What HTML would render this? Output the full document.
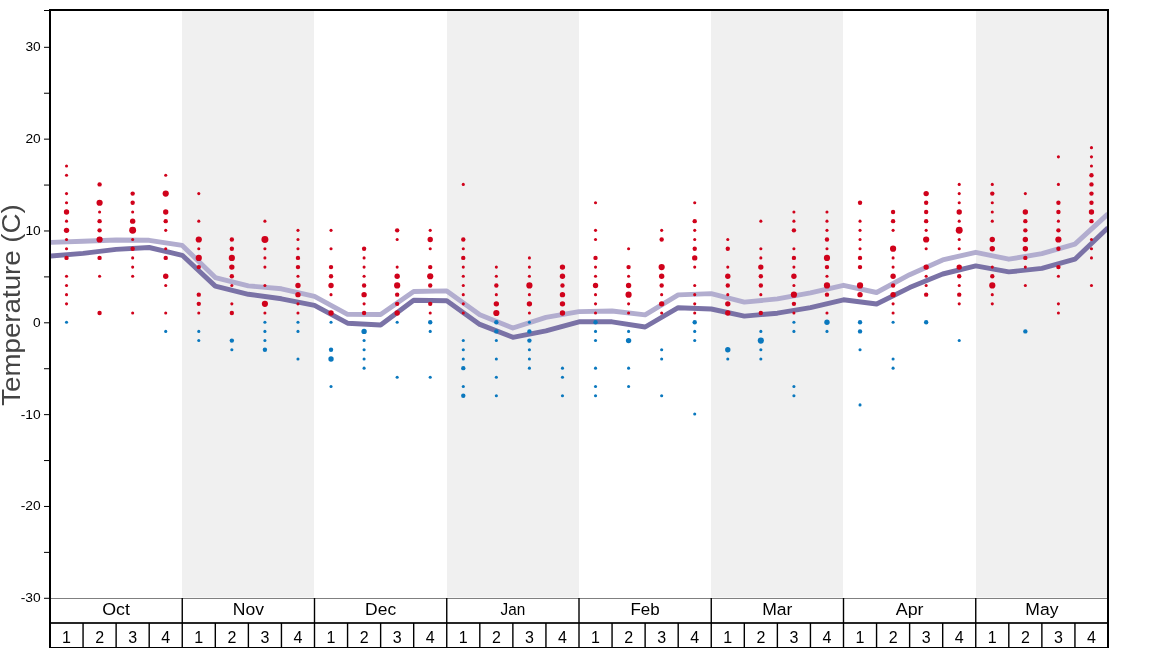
<!DOCTYPE html><html><head><meta charset="utf-8"><style>html,body{margin:0;padding:0;background:#fff;overflow:hidden}svg{display:block;will-change:transform}text{font-family:"Liberation Sans",sans-serif}</style></head><body>
<svg width="1168" height="648" viewBox="0 0 1168 648">
<rect width="1168" height="648" fill="#fff"/>
<rect x="182" y="10" width="132" height="587.5" fill="#f0f0f0"/>
<rect x="447" y="10" width="132" height="587.5" fill="#f0f0f0"/>
<rect x="711" y="10" width="132" height="587.5" fill="#f0f0f0"/>
<rect x="976" y="10" width="131" height="587.5" fill="#f0f0f0"/>
<g clip-path="url(#clip)">
<polyline points="50.00,242.40 83.06,241.30 116.12,240.00 149.19,240.30 182.25,245.40 215.31,277.60 248.38,285.90 281.44,288.80 314.50,296.40 347.56,314.40 380.62,314.50 413.69,291.50 446.75,290.90 479.81,314.80 512.88,328.00 545.94,317.40 579.00,311.60 612.06,311.00 645.12,314.90 678.19,294.90 711.25,293.60 744.31,302.10 777.38,298.90 810.44,292.90 843.50,285.30 876.56,292.50 909.62,274.70 942.69,259.90 975.75,252.30 1008.81,259.20 1041.88,253.60 1074.94,244.10 1108.00,213.90" fill="none" stroke="#b2adcf" stroke-width="4.9" stroke-linejoin="round"/>
<polyline points="50.00,256.10 83.06,253.40 116.12,249.40 149.19,247.50 182.25,255.30 215.31,286.10 248.38,294.30 281.44,298.80 314.50,305.30 347.56,323.20 380.62,325.00 413.69,300.30 446.75,300.70 479.81,324.40 512.88,337.30 545.94,330.90 579.00,321.80 612.06,321.80 645.12,327.00 678.19,307.70 711.25,309.00 744.31,316.10 777.38,313.20 810.44,307.70 843.50,299.80 876.56,304.00 909.62,287.60 942.69,274.00 975.75,265.90 1008.81,271.90 1041.88,268.40 1074.94,259.20 1108.00,227.70" fill="none" stroke="#7a72a6" stroke-width="4.9" stroke-linejoin="round"/>
</g>
<defs><clipPath id="clip"><rect x="51" y="11" width="1056" height="587"/></clipPath></defs>
<circle cx="66.53" cy="166.02" r="1.55" fill="#d0021b"/>
<circle cx="66.53" cy="175.21" r="1.55" fill="#d0021b"/>
<circle cx="66.53" cy="193.58" r="1.55" fill="#d0021b"/>
<circle cx="66.53" cy="202.77" r="1.55" fill="#d0021b"/>
<circle cx="66.53" cy="211.96" r="2.68" fill="#d0021b"/>
<circle cx="66.53" cy="221.14" r="1.55" fill="#d0021b"/>
<circle cx="66.53" cy="230.33" r="2.68" fill="#d0021b"/>
<circle cx="66.53" cy="239.52" r="1.55" fill="#d0021b"/>
<circle cx="66.53" cy="248.70" r="1.55" fill="#d0021b"/>
<circle cx="66.53" cy="257.89" r="2.19" fill="#d0021b"/>
<circle cx="66.53" cy="276.26" r="1.55" fill="#d0021b"/>
<circle cx="66.53" cy="285.45" r="1.55" fill="#d0021b"/>
<circle cx="66.53" cy="294.64" r="1.55" fill="#d0021b"/>
<circle cx="66.53" cy="303.83" r="1.55" fill="#d0021b"/>
<circle cx="66.53" cy="322.20" r="1.55" fill="#0a78be"/>
<circle cx="99.59" cy="184.40" r="2.19" fill="#d0021b"/>
<circle cx="99.59" cy="202.77" r="3.10" fill="#d0021b"/>
<circle cx="99.59" cy="211.96" r="1.55" fill="#d0021b"/>
<circle cx="99.59" cy="221.14" r="2.19" fill="#d0021b"/>
<circle cx="99.59" cy="230.33" r="2.19" fill="#d0021b"/>
<circle cx="99.59" cy="239.52" r="3.10" fill="#d0021b"/>
<circle cx="99.59" cy="257.89" r="2.19" fill="#d0021b"/>
<circle cx="99.59" cy="276.26" r="1.55" fill="#d0021b"/>
<circle cx="99.59" cy="313.01" r="2.19" fill="#d0021b"/>
<circle cx="132.66" cy="193.58" r="2.19" fill="#d0021b"/>
<circle cx="132.66" cy="202.77" r="2.19" fill="#d0021b"/>
<circle cx="132.66" cy="211.96" r="1.55" fill="#d0021b"/>
<circle cx="132.66" cy="221.14" r="2.68" fill="#d0021b"/>
<circle cx="132.66" cy="230.33" r="3.47" fill="#d0021b"/>
<circle cx="132.66" cy="239.52" r="1.55" fill="#d0021b"/>
<circle cx="132.66" cy="248.70" r="2.19" fill="#d0021b"/>
<circle cx="132.66" cy="257.89" r="1.55" fill="#d0021b"/>
<circle cx="132.66" cy="267.08" r="1.55" fill="#d0021b"/>
<circle cx="132.66" cy="276.26" r="1.55" fill="#d0021b"/>
<circle cx="132.66" cy="313.01" r="1.55" fill="#d0021b"/>
<circle cx="165.72" cy="175.21" r="1.55" fill="#d0021b"/>
<circle cx="165.72" cy="193.58" r="3.10" fill="#d0021b"/>
<circle cx="165.72" cy="211.96" r="2.68" fill="#d0021b"/>
<circle cx="165.72" cy="221.14" r="2.19" fill="#d0021b"/>
<circle cx="165.72" cy="230.33" r="1.55" fill="#d0021b"/>
<circle cx="165.72" cy="248.70" r="1.55" fill="#d0021b"/>
<circle cx="165.72" cy="257.89" r="2.19" fill="#d0021b"/>
<circle cx="165.72" cy="276.26" r="2.68" fill="#d0021b"/>
<circle cx="165.72" cy="285.45" r="1.55" fill="#d0021b"/>
<circle cx="165.72" cy="313.01" r="1.55" fill="#d0021b"/>
<circle cx="165.72" cy="331.39" r="1.55" fill="#0a78be"/>
<circle cx="198.78" cy="193.58" r="1.55" fill="#d0021b"/>
<circle cx="198.78" cy="221.14" r="1.55" fill="#d0021b"/>
<circle cx="198.78" cy="239.52" r="3.10" fill="#d0021b"/>
<circle cx="198.78" cy="248.70" r="1.55" fill="#d0021b"/>
<circle cx="198.78" cy="257.89" r="3.10" fill="#d0021b"/>
<circle cx="198.78" cy="267.08" r="2.19" fill="#d0021b"/>
<circle cx="198.78" cy="294.64" r="2.19" fill="#d0021b"/>
<circle cx="198.78" cy="303.83" r="2.19" fill="#d0021b"/>
<circle cx="198.78" cy="313.01" r="1.55" fill="#d0021b"/>
<circle cx="198.78" cy="331.39" r="1.55" fill="#0a78be"/>
<circle cx="198.78" cy="340.57" r="1.55" fill="#0a78be"/>
<circle cx="231.84" cy="239.52" r="2.19" fill="#d0021b"/>
<circle cx="231.84" cy="248.70" r="2.19" fill="#d0021b"/>
<circle cx="231.84" cy="257.89" r="3.10" fill="#d0021b"/>
<circle cx="231.84" cy="267.08" r="2.68" fill="#d0021b"/>
<circle cx="231.84" cy="276.26" r="2.19" fill="#d0021b"/>
<circle cx="231.84" cy="285.45" r="1.55" fill="#d0021b"/>
<circle cx="231.84" cy="303.83" r="1.55" fill="#d0021b"/>
<circle cx="231.84" cy="313.01" r="2.19" fill="#d0021b"/>
<circle cx="231.84" cy="340.57" r="2.19" fill="#0a78be"/>
<circle cx="231.84" cy="349.76" r="1.55" fill="#0a78be"/>
<circle cx="264.91" cy="221.14" r="1.55" fill="#d0021b"/>
<circle cx="264.91" cy="239.52" r="3.47" fill="#d0021b"/>
<circle cx="264.91" cy="248.70" r="1.55" fill="#d0021b"/>
<circle cx="264.91" cy="257.89" r="1.55" fill="#d0021b"/>
<circle cx="264.91" cy="267.08" r="1.55" fill="#d0021b"/>
<circle cx="264.91" cy="285.45" r="1.55" fill="#d0021b"/>
<circle cx="264.91" cy="303.83" r="3.10" fill="#d0021b"/>
<circle cx="264.91" cy="313.01" r="1.55" fill="#d0021b"/>
<circle cx="264.91" cy="322.20" r="1.55" fill="#0a78be"/>
<circle cx="264.91" cy="331.39" r="1.55" fill="#0a78be"/>
<circle cx="264.91" cy="340.57" r="1.55" fill="#0a78be"/>
<circle cx="264.91" cy="349.76" r="2.19" fill="#0a78be"/>
<circle cx="297.97" cy="230.33" r="1.55" fill="#d0021b"/>
<circle cx="297.97" cy="239.52" r="1.55" fill="#d0021b"/>
<circle cx="297.97" cy="248.70" r="1.55" fill="#d0021b"/>
<circle cx="297.97" cy="257.89" r="2.19" fill="#d0021b"/>
<circle cx="297.97" cy="267.08" r="2.19" fill="#d0021b"/>
<circle cx="297.97" cy="276.26" r="1.55" fill="#d0021b"/>
<circle cx="297.97" cy="285.45" r="2.68" fill="#d0021b"/>
<circle cx="297.97" cy="294.64" r="2.68" fill="#d0021b"/>
<circle cx="297.97" cy="303.83" r="1.55" fill="#d0021b"/>
<circle cx="297.97" cy="313.01" r="1.55" fill="#d0021b"/>
<circle cx="297.97" cy="322.20" r="1.55" fill="#0a78be"/>
<circle cx="297.97" cy="331.39" r="1.55" fill="#0a78be"/>
<circle cx="297.97" cy="358.95" r="1.55" fill="#0a78be"/>
<circle cx="331.03" cy="230.33" r="1.55" fill="#d0021b"/>
<circle cx="331.03" cy="248.70" r="1.55" fill="#d0021b"/>
<circle cx="331.03" cy="267.08" r="2.19" fill="#d0021b"/>
<circle cx="331.03" cy="276.26" r="2.19" fill="#d0021b"/>
<circle cx="331.03" cy="285.45" r="2.68" fill="#d0021b"/>
<circle cx="331.03" cy="294.64" r="1.55" fill="#d0021b"/>
<circle cx="331.03" cy="313.01" r="2.68" fill="#d0021b"/>
<circle cx="331.03" cy="322.20" r="1.55" fill="#0a78be"/>
<circle cx="331.03" cy="349.76" r="2.19" fill="#0a78be"/>
<circle cx="331.03" cy="358.95" r="2.68" fill="#0a78be"/>
<circle cx="331.03" cy="386.51" r="1.55" fill="#0a78be"/>
<circle cx="364.09" cy="248.70" r="2.19" fill="#d0021b"/>
<circle cx="364.09" cy="257.89" r="1.55" fill="#d0021b"/>
<circle cx="364.09" cy="267.08" r="1.55" fill="#d0021b"/>
<circle cx="364.09" cy="276.26" r="1.55" fill="#d0021b"/>
<circle cx="364.09" cy="285.45" r="2.19" fill="#d0021b"/>
<circle cx="364.09" cy="294.64" r="2.68" fill="#d0021b"/>
<circle cx="364.09" cy="303.83" r="1.55" fill="#d0021b"/>
<circle cx="364.09" cy="313.01" r="2.19" fill="#d0021b"/>
<circle cx="364.09" cy="331.39" r="2.68" fill="#0a78be"/>
<circle cx="364.09" cy="340.57" r="1.55" fill="#0a78be"/>
<circle cx="364.09" cy="349.76" r="1.55" fill="#0a78be"/>
<circle cx="364.09" cy="358.95" r="1.55" fill="#0a78be"/>
<circle cx="364.09" cy="368.13" r="1.55" fill="#0a78be"/>
<circle cx="397.16" cy="230.33" r="2.19" fill="#d0021b"/>
<circle cx="397.16" cy="239.52" r="1.55" fill="#d0021b"/>
<circle cx="397.16" cy="267.08" r="1.55" fill="#d0021b"/>
<circle cx="397.16" cy="276.26" r="2.68" fill="#d0021b"/>
<circle cx="397.16" cy="285.45" r="3.10" fill="#d0021b"/>
<circle cx="397.16" cy="294.64" r="2.19" fill="#d0021b"/>
<circle cx="397.16" cy="303.83" r="2.19" fill="#d0021b"/>
<circle cx="397.16" cy="313.01" r="2.68" fill="#d0021b"/>
<circle cx="397.16" cy="322.20" r="1.55" fill="#0a78be"/>
<circle cx="397.16" cy="377.32" r="1.55" fill="#0a78be"/>
<circle cx="430.22" cy="230.33" r="1.55" fill="#d0021b"/>
<circle cx="430.22" cy="239.52" r="2.68" fill="#d0021b"/>
<circle cx="430.22" cy="248.70" r="1.55" fill="#d0021b"/>
<circle cx="430.22" cy="267.08" r="2.19" fill="#d0021b"/>
<circle cx="430.22" cy="276.26" r="3.10" fill="#d0021b"/>
<circle cx="430.22" cy="285.45" r="2.19" fill="#d0021b"/>
<circle cx="430.22" cy="303.83" r="2.19" fill="#d0021b"/>
<circle cx="430.22" cy="313.01" r="1.55" fill="#d0021b"/>
<circle cx="430.22" cy="322.20" r="2.19" fill="#0a78be"/>
<circle cx="430.22" cy="331.39" r="1.55" fill="#0a78be"/>
<circle cx="430.22" cy="377.32" r="1.55" fill="#0a78be"/>
<circle cx="463.28" cy="184.40" r="1.55" fill="#d0021b"/>
<circle cx="463.28" cy="239.52" r="2.19" fill="#d0021b"/>
<circle cx="463.28" cy="248.70" r="1.55" fill="#d0021b"/>
<circle cx="463.28" cy="257.89" r="2.19" fill="#d0021b"/>
<circle cx="463.28" cy="267.08" r="1.55" fill="#d0021b"/>
<circle cx="463.28" cy="276.26" r="1.55" fill="#d0021b"/>
<circle cx="463.28" cy="285.45" r="1.55" fill="#d0021b"/>
<circle cx="463.28" cy="294.64" r="1.55" fill="#d0021b"/>
<circle cx="463.28" cy="303.83" r="1.55" fill="#d0021b"/>
<circle cx="463.28" cy="313.01" r="1.55" fill="#d0021b"/>
<circle cx="463.28" cy="340.57" r="1.55" fill="#0a78be"/>
<circle cx="463.28" cy="349.76" r="1.55" fill="#0a78be"/>
<circle cx="463.28" cy="358.95" r="1.55" fill="#0a78be"/>
<circle cx="463.28" cy="368.13" r="2.19" fill="#0a78be"/>
<circle cx="463.28" cy="386.51" r="1.55" fill="#0a78be"/>
<circle cx="463.28" cy="395.70" r="2.19" fill="#0a78be"/>
<circle cx="496.34" cy="267.08" r="1.55" fill="#d0021b"/>
<circle cx="496.34" cy="276.26" r="1.55" fill="#d0021b"/>
<circle cx="496.34" cy="285.45" r="2.19" fill="#d0021b"/>
<circle cx="496.34" cy="294.64" r="1.55" fill="#d0021b"/>
<circle cx="496.34" cy="303.83" r="2.68" fill="#d0021b"/>
<circle cx="496.34" cy="313.01" r="3.10" fill="#d0021b"/>
<circle cx="496.34" cy="322.20" r="2.19" fill="#0a78be"/>
<circle cx="496.34" cy="331.39" r="2.19" fill="#0a78be"/>
<circle cx="496.34" cy="340.57" r="1.55" fill="#0a78be"/>
<circle cx="496.34" cy="358.95" r="1.55" fill="#0a78be"/>
<circle cx="496.34" cy="377.32" r="1.55" fill="#0a78be"/>
<circle cx="496.34" cy="395.70" r="1.55" fill="#0a78be"/>
<circle cx="529.41" cy="257.89" r="1.55" fill="#d0021b"/>
<circle cx="529.41" cy="267.08" r="1.55" fill="#d0021b"/>
<circle cx="529.41" cy="276.26" r="1.55" fill="#d0021b"/>
<circle cx="529.41" cy="285.45" r="3.10" fill="#d0021b"/>
<circle cx="529.41" cy="294.64" r="1.55" fill="#d0021b"/>
<circle cx="529.41" cy="303.83" r="2.68" fill="#d0021b"/>
<circle cx="529.41" cy="313.01" r="1.55" fill="#d0021b"/>
<circle cx="529.41" cy="322.20" r="1.55" fill="#0a78be"/>
<circle cx="529.41" cy="331.39" r="2.19" fill="#0a78be"/>
<circle cx="529.41" cy="340.57" r="2.19" fill="#0a78be"/>
<circle cx="529.41" cy="349.76" r="1.55" fill="#0a78be"/>
<circle cx="529.41" cy="358.95" r="1.55" fill="#0a78be"/>
<circle cx="529.41" cy="368.13" r="1.55" fill="#0a78be"/>
<circle cx="562.47" cy="267.08" r="2.68" fill="#d0021b"/>
<circle cx="562.47" cy="276.26" r="2.68" fill="#d0021b"/>
<circle cx="562.47" cy="285.45" r="2.19" fill="#d0021b"/>
<circle cx="562.47" cy="294.64" r="2.68" fill="#d0021b"/>
<circle cx="562.47" cy="303.83" r="2.68" fill="#d0021b"/>
<circle cx="562.47" cy="313.01" r="2.68" fill="#d0021b"/>
<circle cx="562.47" cy="368.13" r="1.55" fill="#0a78be"/>
<circle cx="562.47" cy="377.32" r="1.55" fill="#0a78be"/>
<circle cx="562.47" cy="395.70" r="1.55" fill="#0a78be"/>
<circle cx="595.53" cy="202.77" r="1.55" fill="#d0021b"/>
<circle cx="595.53" cy="230.33" r="1.55" fill="#d0021b"/>
<circle cx="595.53" cy="239.52" r="1.55" fill="#d0021b"/>
<circle cx="595.53" cy="257.89" r="2.19" fill="#d0021b"/>
<circle cx="595.53" cy="267.08" r="1.55" fill="#d0021b"/>
<circle cx="595.53" cy="276.26" r="1.55" fill="#d0021b"/>
<circle cx="595.53" cy="285.45" r="2.68" fill="#d0021b"/>
<circle cx="595.53" cy="294.64" r="1.55" fill="#d0021b"/>
<circle cx="595.53" cy="303.83" r="1.55" fill="#d0021b"/>
<circle cx="595.53" cy="313.01" r="1.55" fill="#d0021b"/>
<circle cx="595.53" cy="322.20" r="2.19" fill="#0a78be"/>
<circle cx="595.53" cy="331.39" r="1.55" fill="#0a78be"/>
<circle cx="595.53" cy="340.57" r="1.55" fill="#0a78be"/>
<circle cx="595.53" cy="368.13" r="1.55" fill="#0a78be"/>
<circle cx="595.53" cy="386.51" r="1.55" fill="#0a78be"/>
<circle cx="595.53" cy="395.70" r="1.55" fill="#0a78be"/>
<circle cx="628.59" cy="248.70" r="1.55" fill="#d0021b"/>
<circle cx="628.59" cy="267.08" r="2.19" fill="#d0021b"/>
<circle cx="628.59" cy="276.26" r="1.55" fill="#d0021b"/>
<circle cx="628.59" cy="285.45" r="2.68" fill="#d0021b"/>
<circle cx="628.59" cy="294.64" r="3.10" fill="#d0021b"/>
<circle cx="628.59" cy="303.83" r="1.55" fill="#d0021b"/>
<circle cx="628.59" cy="313.01" r="1.55" fill="#d0021b"/>
<circle cx="628.59" cy="331.39" r="1.55" fill="#0a78be"/>
<circle cx="628.59" cy="340.57" r="2.68" fill="#0a78be"/>
<circle cx="628.59" cy="368.13" r="1.55" fill="#0a78be"/>
<circle cx="628.59" cy="386.51" r="1.55" fill="#0a78be"/>
<circle cx="661.66" cy="230.33" r="1.55" fill="#d0021b"/>
<circle cx="661.66" cy="239.52" r="2.19" fill="#d0021b"/>
<circle cx="661.66" cy="267.08" r="3.10" fill="#d0021b"/>
<circle cx="661.66" cy="276.26" r="2.68" fill="#d0021b"/>
<circle cx="661.66" cy="285.45" r="2.19" fill="#d0021b"/>
<circle cx="661.66" cy="294.64" r="1.55" fill="#d0021b"/>
<circle cx="661.66" cy="303.83" r="2.68" fill="#d0021b"/>
<circle cx="661.66" cy="313.01" r="1.55" fill="#d0021b"/>
<circle cx="661.66" cy="349.76" r="1.55" fill="#0a78be"/>
<circle cx="661.66" cy="358.95" r="1.55" fill="#0a78be"/>
<circle cx="661.66" cy="395.70" r="1.55" fill="#0a78be"/>
<circle cx="694.72" cy="202.77" r="1.55" fill="#d0021b"/>
<circle cx="694.72" cy="221.14" r="2.19" fill="#d0021b"/>
<circle cx="694.72" cy="230.33" r="1.55" fill="#d0021b"/>
<circle cx="694.72" cy="239.52" r="1.55" fill="#d0021b"/>
<circle cx="694.72" cy="248.70" r="2.19" fill="#d0021b"/>
<circle cx="694.72" cy="257.89" r="2.68" fill="#d0021b"/>
<circle cx="694.72" cy="267.08" r="1.55" fill="#d0021b"/>
<circle cx="694.72" cy="285.45" r="1.55" fill="#d0021b"/>
<circle cx="694.72" cy="294.64" r="1.55" fill="#d0021b"/>
<circle cx="694.72" cy="303.83" r="1.55" fill="#d0021b"/>
<circle cx="694.72" cy="313.01" r="1.55" fill="#d0021b"/>
<circle cx="694.72" cy="322.20" r="2.19" fill="#0a78be"/>
<circle cx="694.72" cy="331.39" r="1.55" fill="#0a78be"/>
<circle cx="694.72" cy="340.57" r="1.55" fill="#0a78be"/>
<circle cx="694.72" cy="414.07" r="1.55" fill="#0a78be"/>
<circle cx="727.78" cy="239.52" r="1.55" fill="#d0021b"/>
<circle cx="727.78" cy="248.70" r="2.19" fill="#d0021b"/>
<circle cx="727.78" cy="267.08" r="1.55" fill="#d0021b"/>
<circle cx="727.78" cy="276.26" r="2.68" fill="#d0021b"/>
<circle cx="727.78" cy="285.45" r="2.19" fill="#d0021b"/>
<circle cx="727.78" cy="294.64" r="1.55" fill="#d0021b"/>
<circle cx="727.78" cy="303.83" r="2.68" fill="#d0021b"/>
<circle cx="727.78" cy="313.01" r="2.68" fill="#d0021b"/>
<circle cx="727.78" cy="349.76" r="2.68" fill="#0a78be"/>
<circle cx="727.78" cy="358.95" r="1.55" fill="#0a78be"/>
<circle cx="760.84" cy="221.14" r="1.55" fill="#d0021b"/>
<circle cx="760.84" cy="248.70" r="1.55" fill="#d0021b"/>
<circle cx="760.84" cy="257.89" r="1.55" fill="#d0021b"/>
<circle cx="760.84" cy="267.08" r="2.68" fill="#d0021b"/>
<circle cx="760.84" cy="276.26" r="2.19" fill="#d0021b"/>
<circle cx="760.84" cy="285.45" r="2.19" fill="#d0021b"/>
<circle cx="760.84" cy="294.64" r="1.55" fill="#d0021b"/>
<circle cx="760.84" cy="313.01" r="2.19" fill="#d0021b"/>
<circle cx="760.84" cy="331.39" r="1.55" fill="#0a78be"/>
<circle cx="760.84" cy="340.57" r="3.10" fill="#0a78be"/>
<circle cx="760.84" cy="349.76" r="1.55" fill="#0a78be"/>
<circle cx="760.84" cy="358.95" r="1.55" fill="#0a78be"/>
<circle cx="793.91" cy="211.96" r="1.55" fill="#d0021b"/>
<circle cx="793.91" cy="221.14" r="1.55" fill="#d0021b"/>
<circle cx="793.91" cy="230.33" r="2.19" fill="#d0021b"/>
<circle cx="793.91" cy="248.70" r="1.55" fill="#d0021b"/>
<circle cx="793.91" cy="257.89" r="2.19" fill="#d0021b"/>
<circle cx="793.91" cy="267.08" r="1.55" fill="#d0021b"/>
<circle cx="793.91" cy="276.26" r="2.68" fill="#d0021b"/>
<circle cx="793.91" cy="285.45" r="1.55" fill="#d0021b"/>
<circle cx="793.91" cy="294.64" r="3.10" fill="#d0021b"/>
<circle cx="793.91" cy="303.83" r="2.19" fill="#d0021b"/>
<circle cx="793.91" cy="313.01" r="1.55" fill="#d0021b"/>
<circle cx="793.91" cy="322.20" r="1.55" fill="#0a78be"/>
<circle cx="793.91" cy="331.39" r="1.55" fill="#0a78be"/>
<circle cx="793.91" cy="386.51" r="1.55" fill="#0a78be"/>
<circle cx="793.91" cy="395.70" r="1.55" fill="#0a78be"/>
<circle cx="826.97" cy="211.96" r="1.55" fill="#d0021b"/>
<circle cx="826.97" cy="221.14" r="1.55" fill="#d0021b"/>
<circle cx="826.97" cy="230.33" r="1.55" fill="#d0021b"/>
<circle cx="826.97" cy="239.52" r="2.19" fill="#d0021b"/>
<circle cx="826.97" cy="248.70" r="1.55" fill="#d0021b"/>
<circle cx="826.97" cy="257.89" r="3.10" fill="#d0021b"/>
<circle cx="826.97" cy="267.08" r="2.19" fill="#d0021b"/>
<circle cx="826.97" cy="276.26" r="1.55" fill="#d0021b"/>
<circle cx="826.97" cy="285.45" r="3.10" fill="#d0021b"/>
<circle cx="826.97" cy="294.64" r="2.19" fill="#d0021b"/>
<circle cx="826.97" cy="313.01" r="1.55" fill="#d0021b"/>
<circle cx="826.97" cy="322.20" r="2.68" fill="#0a78be"/>
<circle cx="826.97" cy="331.39" r="1.55" fill="#0a78be"/>
<circle cx="860.03" cy="202.77" r="2.19" fill="#d0021b"/>
<circle cx="860.03" cy="221.14" r="1.55" fill="#d0021b"/>
<circle cx="860.03" cy="230.33" r="1.55" fill="#d0021b"/>
<circle cx="860.03" cy="239.52" r="1.55" fill="#d0021b"/>
<circle cx="860.03" cy="248.70" r="1.55" fill="#d0021b"/>
<circle cx="860.03" cy="257.89" r="2.19" fill="#d0021b"/>
<circle cx="860.03" cy="267.08" r="2.19" fill="#d0021b"/>
<circle cx="860.03" cy="285.45" r="3.10" fill="#d0021b"/>
<circle cx="860.03" cy="294.64" r="2.68" fill="#d0021b"/>
<circle cx="860.03" cy="322.20" r="2.19" fill="#0a78be"/>
<circle cx="860.03" cy="331.39" r="2.19" fill="#0a78be"/>
<circle cx="860.03" cy="349.76" r="1.55" fill="#0a78be"/>
<circle cx="860.03" cy="404.88" r="1.55" fill="#0a78be"/>
<circle cx="893.09" cy="211.96" r="2.19" fill="#d0021b"/>
<circle cx="893.09" cy="221.14" r="2.19" fill="#d0021b"/>
<circle cx="893.09" cy="230.33" r="1.55" fill="#d0021b"/>
<circle cx="893.09" cy="248.70" r="3.10" fill="#d0021b"/>
<circle cx="893.09" cy="257.89" r="1.55" fill="#d0021b"/>
<circle cx="893.09" cy="267.08" r="1.55" fill="#d0021b"/>
<circle cx="893.09" cy="276.26" r="2.68" fill="#d0021b"/>
<circle cx="893.09" cy="285.45" r="2.19" fill="#d0021b"/>
<circle cx="893.09" cy="294.64" r="2.68" fill="#d0021b"/>
<circle cx="893.09" cy="303.83" r="1.55" fill="#d0021b"/>
<circle cx="893.09" cy="313.01" r="1.55" fill="#d0021b"/>
<circle cx="893.09" cy="322.20" r="1.55" fill="#0a78be"/>
<circle cx="893.09" cy="358.95" r="1.55" fill="#0a78be"/>
<circle cx="893.09" cy="368.13" r="1.55" fill="#0a78be"/>
<circle cx="926.16" cy="193.58" r="2.68" fill="#d0021b"/>
<circle cx="926.16" cy="202.77" r="2.19" fill="#d0021b"/>
<circle cx="926.16" cy="211.96" r="2.19" fill="#d0021b"/>
<circle cx="926.16" cy="221.14" r="2.19" fill="#d0021b"/>
<circle cx="926.16" cy="230.33" r="1.55" fill="#d0021b"/>
<circle cx="926.16" cy="239.52" r="3.10" fill="#d0021b"/>
<circle cx="926.16" cy="248.70" r="1.55" fill="#d0021b"/>
<circle cx="926.16" cy="267.08" r="2.68" fill="#d0021b"/>
<circle cx="926.16" cy="276.26" r="1.55" fill="#d0021b"/>
<circle cx="926.16" cy="285.45" r="1.55" fill="#d0021b"/>
<circle cx="926.16" cy="294.64" r="2.19" fill="#d0021b"/>
<circle cx="926.16" cy="322.20" r="2.19" fill="#0a78be"/>
<circle cx="959.22" cy="184.40" r="1.55" fill="#d0021b"/>
<circle cx="959.22" cy="193.58" r="1.55" fill="#d0021b"/>
<circle cx="959.22" cy="202.77" r="1.55" fill="#d0021b"/>
<circle cx="959.22" cy="211.96" r="2.68" fill="#d0021b"/>
<circle cx="959.22" cy="221.14" r="1.55" fill="#d0021b"/>
<circle cx="959.22" cy="230.33" r="3.47" fill="#d0021b"/>
<circle cx="959.22" cy="239.52" r="1.55" fill="#d0021b"/>
<circle cx="959.22" cy="248.70" r="1.55" fill="#d0021b"/>
<circle cx="959.22" cy="267.08" r="2.68" fill="#d0021b"/>
<circle cx="959.22" cy="276.26" r="2.19" fill="#d0021b"/>
<circle cx="959.22" cy="285.45" r="1.55" fill="#d0021b"/>
<circle cx="959.22" cy="294.64" r="2.19" fill="#d0021b"/>
<circle cx="959.22" cy="303.83" r="1.55" fill="#d0021b"/>
<circle cx="959.22" cy="340.57" r="1.55" fill="#0a78be"/>
<circle cx="992.28" cy="184.40" r="1.55" fill="#d0021b"/>
<circle cx="992.28" cy="193.58" r="2.19" fill="#d0021b"/>
<circle cx="992.28" cy="202.77" r="1.55" fill="#d0021b"/>
<circle cx="992.28" cy="211.96" r="1.55" fill="#d0021b"/>
<circle cx="992.28" cy="221.14" r="1.55" fill="#d0021b"/>
<circle cx="992.28" cy="239.52" r="2.68" fill="#d0021b"/>
<circle cx="992.28" cy="248.70" r="2.68" fill="#d0021b"/>
<circle cx="992.28" cy="267.08" r="1.55" fill="#d0021b"/>
<circle cx="992.28" cy="276.26" r="2.19" fill="#d0021b"/>
<circle cx="992.28" cy="285.45" r="3.10" fill="#d0021b"/>
<circle cx="992.28" cy="294.64" r="1.55" fill="#d0021b"/>
<circle cx="992.28" cy="303.83" r="1.55" fill="#d0021b"/>
<circle cx="1025.34" cy="193.58" r="1.55" fill="#d0021b"/>
<circle cx="1025.34" cy="211.96" r="2.68" fill="#d0021b"/>
<circle cx="1025.34" cy="221.14" r="2.19" fill="#d0021b"/>
<circle cx="1025.34" cy="230.33" r="2.19" fill="#d0021b"/>
<circle cx="1025.34" cy="239.52" r="2.68" fill="#d0021b"/>
<circle cx="1025.34" cy="248.70" r="2.68" fill="#d0021b"/>
<circle cx="1025.34" cy="257.89" r="2.19" fill="#d0021b"/>
<circle cx="1025.34" cy="267.08" r="1.55" fill="#d0021b"/>
<circle cx="1025.34" cy="285.45" r="1.55" fill="#d0021b"/>
<circle cx="1025.34" cy="331.39" r="2.19" fill="#0a78be"/>
<circle cx="1058.41" cy="156.83" r="1.55" fill="#d0021b"/>
<circle cx="1058.41" cy="184.40" r="1.55" fill="#d0021b"/>
<circle cx="1058.41" cy="202.77" r="2.19" fill="#d0021b"/>
<circle cx="1058.41" cy="211.96" r="2.19" fill="#d0021b"/>
<circle cx="1058.41" cy="221.14" r="1.55" fill="#d0021b"/>
<circle cx="1058.41" cy="230.33" r="2.19" fill="#d0021b"/>
<circle cx="1058.41" cy="239.52" r="3.10" fill="#d0021b"/>
<circle cx="1058.41" cy="248.70" r="2.19" fill="#d0021b"/>
<circle cx="1058.41" cy="267.08" r="2.19" fill="#d0021b"/>
<circle cx="1058.41" cy="276.26" r="1.55" fill="#d0021b"/>
<circle cx="1058.41" cy="303.83" r="1.55" fill="#d0021b"/>
<circle cx="1058.41" cy="313.01" r="1.55" fill="#d0021b"/>
<circle cx="1091.47" cy="147.65" r="1.55" fill="#d0021b"/>
<circle cx="1091.47" cy="156.83" r="1.55" fill="#d0021b"/>
<circle cx="1091.47" cy="166.02" r="1.55" fill="#d0021b"/>
<circle cx="1091.47" cy="175.21" r="2.19" fill="#d0021b"/>
<circle cx="1091.47" cy="184.40" r="2.19" fill="#d0021b"/>
<circle cx="1091.47" cy="193.58" r="2.19" fill="#d0021b"/>
<circle cx="1091.47" cy="202.77" r="2.19" fill="#d0021b"/>
<circle cx="1091.47" cy="211.96" r="2.68" fill="#d0021b"/>
<circle cx="1091.47" cy="221.14" r="2.19" fill="#d0021b"/>
<circle cx="1091.47" cy="239.52" r="1.55" fill="#d0021b"/>
<circle cx="1091.47" cy="248.70" r="1.55" fill="#d0021b"/>
<circle cx="1091.47" cy="257.89" r="1.55" fill="#d0021b"/>
<circle cx="1091.47" cy="285.45" r="1.55" fill="#d0021b"/>
<rect x="51" y="598" width="1056" height="1" fill="#808080"/>
<rect x="51" y="622" width="1056" height="2" fill="#262626"/>
<rect x="82.36" y="623" width="1.4" height="25" fill="#000"/>
<rect x="115.42" y="623" width="1.4" height="25" fill="#000"/>
<rect x="148.49" y="623" width="1.4" height="25" fill="#000"/>
<rect x="181.55" y="598" width="1.4" height="50" fill="#000"/>
<rect x="214.61" y="623" width="1.4" height="25" fill="#000"/>
<rect x="247.68" y="623" width="1.4" height="25" fill="#000"/>
<rect x="280.74" y="623" width="1.4" height="25" fill="#000"/>
<rect x="313.80" y="598" width="1.4" height="50" fill="#000"/>
<rect x="346.86" y="623" width="1.4" height="25" fill="#000"/>
<rect x="379.93" y="623" width="1.4" height="25" fill="#000"/>
<rect x="412.99" y="623" width="1.4" height="25" fill="#000"/>
<rect x="446.05" y="598" width="1.4" height="50" fill="#000"/>
<rect x="479.11" y="623" width="1.4" height="25" fill="#000"/>
<rect x="512.17" y="623" width="1.4" height="25" fill="#000"/>
<rect x="545.24" y="623" width="1.4" height="25" fill="#000"/>
<rect x="578.30" y="598" width="1.4" height="50" fill="#000"/>
<rect x="611.36" y="623" width="1.4" height="25" fill="#000"/>
<rect x="644.42" y="623" width="1.4" height="25" fill="#000"/>
<rect x="677.49" y="623" width="1.4" height="25" fill="#000"/>
<rect x="710.55" y="598" width="1.4" height="50" fill="#000"/>
<rect x="743.61" y="623" width="1.4" height="25" fill="#000"/>
<rect x="776.67" y="623" width="1.4" height="25" fill="#000"/>
<rect x="809.74" y="623" width="1.4" height="25" fill="#000"/>
<rect x="842.80" y="598" width="1.4" height="50" fill="#000"/>
<rect x="875.86" y="623" width="1.4" height="25" fill="#000"/>
<rect x="908.92" y="623" width="1.4" height="25" fill="#000"/>
<rect x="941.99" y="623" width="1.4" height="25" fill="#000"/>
<rect x="975.05" y="598" width="1.4" height="50" fill="#000"/>
<rect x="1008.11" y="623" width="1.4" height="25" fill="#000"/>
<rect x="1041.17" y="623" width="1.4" height="25" fill="#000"/>
<rect x="1074.24" y="623" width="1.4" height="25" fill="#000"/>
<rect x="49" y="9" width="1060" height="2" fill="#000"/>
<rect x="49" y="9" width="2" height="639" fill="#000"/>
<rect x="1107" y="9" width="2" height="639" fill="#000"/>
<rect x="49" y="647" width="1060" height="1" fill="#000"/>
<rect x="44" y="10" width="5" height="1" fill="#000"/>
<rect x="44" y="46.81" width="5" height="1" fill="#000"/>
<rect x="44" y="92.73" width="5" height="1" fill="#000"/>
<rect x="44" y="138.64" width="5" height="1" fill="#000"/>
<rect x="44" y="184.56" width="5" height="1" fill="#000"/>
<rect x="44" y="230.47" width="5" height="1" fill="#000"/>
<rect x="44" y="276.38" width="5" height="1" fill="#000"/>
<rect x="44" y="322.30" width="5" height="1" fill="#000"/>
<rect x="44" y="368.22" width="5" height="1" fill="#000"/>
<rect x="44" y="414.13" width="5" height="1" fill="#000"/>
<rect x="44" y="460.05" width="5" height="1" fill="#000"/>
<rect x="44" y="505.96" width="5" height="1" fill="#000"/>
<rect x="44" y="551.88" width="5" height="1" fill="#000"/>
<rect x="44" y="597.79" width="5" height="1" fill="#000"/>
<text x="40.7" y="51.21" font-size="12.8" text-anchor="end" fill="#000" textLength="15.3" lengthAdjust="spacingAndGlyphs">30</text>
<text x="40.7" y="143.04" font-size="12.8" text-anchor="end" fill="#000" textLength="15.3" lengthAdjust="spacingAndGlyphs">20</text>
<text x="40.7" y="234.87" font-size="12.8" text-anchor="end" fill="#000" textLength="15.3" lengthAdjust="spacingAndGlyphs">10</text>
<text x="40.7" y="326.70" font-size="12.8" text-anchor="end" fill="#000" textLength="7.65" lengthAdjust="spacingAndGlyphs">0</text>
<text x="40.7" y="418.53" font-size="12.8" text-anchor="end" fill="#000" textLength="20.0" lengthAdjust="spacingAndGlyphs">-10</text>
<text x="40.7" y="510.36" font-size="12.8" text-anchor="end" fill="#000" textLength="20.0" lengthAdjust="spacingAndGlyphs">-20</text>
<text x="40.7" y="602.19" font-size="12.8" text-anchor="end" fill="#000" textLength="20.0" lengthAdjust="spacingAndGlyphs">-30</text>
<text transform="translate(19.7,305) rotate(-90)" font-size="25" text-anchor="middle" fill="#444" textLength="201.5" lengthAdjust="spacingAndGlyphs">Temperature (C)</text>
<text x="116.12" y="615" font-size="16.3" text-anchor="middle" fill="#000" textLength="27.7" lengthAdjust="spacingAndGlyphs">Oct</text>
<text x="66.53" y="642.5" font-size="16" text-anchor="middle" fill="#000">1</text>
<text x="99.59" y="642.5" font-size="16" text-anchor="middle" fill="#000">2</text>
<text x="132.66" y="642.5" font-size="16" text-anchor="middle" fill="#000">3</text>
<text x="165.72" y="642.5" font-size="16" text-anchor="middle" fill="#000">4</text>
<text x="248.38" y="615" font-size="16.3" text-anchor="middle" fill="#000" textLength="31.2" lengthAdjust="spacingAndGlyphs">Nov</text>
<text x="198.78" y="642.5" font-size="16" text-anchor="middle" fill="#000">1</text>
<text x="231.84" y="642.5" font-size="16" text-anchor="middle" fill="#000">2</text>
<text x="264.91" y="642.5" font-size="16" text-anchor="middle" fill="#000">3</text>
<text x="297.97" y="642.5" font-size="16" text-anchor="middle" fill="#000">4</text>
<text x="380.62" y="615" font-size="16.3" text-anchor="middle" fill="#000" textLength="31.0" lengthAdjust="spacingAndGlyphs">Dec</text>
<text x="331.03" y="642.5" font-size="16" text-anchor="middle" fill="#000">1</text>
<text x="364.09" y="642.5" font-size="16" text-anchor="middle" fill="#000">2</text>
<text x="397.16" y="642.5" font-size="16" text-anchor="middle" fill="#000">3</text>
<text x="430.22" y="642.5" font-size="16" text-anchor="middle" fill="#000">4</text>
<text x="512.88" y="615" font-size="16.3" text-anchor="middle" fill="#000" textLength="24.7" lengthAdjust="spacingAndGlyphs">Jan</text>
<text x="463.28" y="642.5" font-size="16" text-anchor="middle" fill="#000">1</text>
<text x="496.34" y="642.5" font-size="16" text-anchor="middle" fill="#000">2</text>
<text x="529.41" y="642.5" font-size="16" text-anchor="middle" fill="#000">3</text>
<text x="562.47" y="642.5" font-size="16" text-anchor="middle" fill="#000">4</text>
<text x="645.12" y="615" font-size="16.3" text-anchor="middle" fill="#000" textLength="29.2" lengthAdjust="spacingAndGlyphs">Feb</text>
<text x="595.53" y="642.5" font-size="16" text-anchor="middle" fill="#000">1</text>
<text x="628.59" y="642.5" font-size="16" text-anchor="middle" fill="#000">2</text>
<text x="661.66" y="642.5" font-size="16" text-anchor="middle" fill="#000">3</text>
<text x="694.72" y="642.5" font-size="16" text-anchor="middle" fill="#000">4</text>
<text x="777.38" y="615" font-size="16.3" text-anchor="middle" fill="#000" textLength="30.2" lengthAdjust="spacingAndGlyphs">Mar</text>
<text x="727.78" y="642.5" font-size="16" text-anchor="middle" fill="#000">1</text>
<text x="760.84" y="642.5" font-size="16" text-anchor="middle" fill="#000">2</text>
<text x="793.91" y="642.5" font-size="16" text-anchor="middle" fill="#000">3</text>
<text x="826.97" y="642.5" font-size="16" text-anchor="middle" fill="#000">4</text>
<text x="909.62" y="615" font-size="16.3" text-anchor="middle" fill="#000" textLength="27.7" lengthAdjust="spacingAndGlyphs">Apr</text>
<text x="860.03" y="642.5" font-size="16" text-anchor="middle" fill="#000">1</text>
<text x="893.09" y="642.5" font-size="16" text-anchor="middle" fill="#000">2</text>
<text x="926.16" y="642.5" font-size="16" text-anchor="middle" fill="#000">3</text>
<text x="959.22" y="642.5" font-size="16" text-anchor="middle" fill="#000">4</text>
<text x="1041.88" y="615" font-size="16.3" text-anchor="middle" fill="#000" textLength="33.1" lengthAdjust="spacingAndGlyphs">May</text>
<text x="992.28" y="642.5" font-size="16" text-anchor="middle" fill="#000">1</text>
<text x="1025.34" y="642.5" font-size="16" text-anchor="middle" fill="#000">2</text>
<text x="1058.41" y="642.5" font-size="16" text-anchor="middle" fill="#000">3</text>
<text x="1091.47" y="642.5" font-size="16" text-anchor="middle" fill="#000">4</text>
</svg></body></html>
